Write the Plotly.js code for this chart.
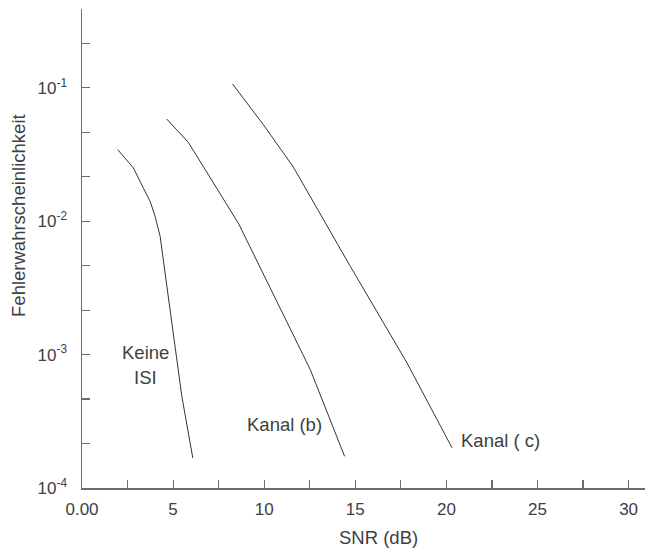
<!DOCTYPE html>
<html>
<head>
<meta charset="utf-8">
<script src="https://cdn.plot.ly/plotly-3.0.1.min.js"></script>
<style>html,body{margin:0;padding:0;background:#fff;}#chart{width:645px;height:552px;}</style>
</head>
<body>
<div id="chart"></div>
<script>
// SNR (dB) and error probability for each curve
var snrKeine = [1.96, 2.82, 3.37, 3.74, 4.01, 4.29, 4.93, 5.48, 6.08];
var peKeine  = [0.0344, 0.0251, 0.0177, 0.0141, 0.0109, 0.00769, 0.00173, 0.000487, 0.000168];

var snrB = [4.65, 5.83, 8.60, 12.53, 14.41];
var peB  = [0.0583, 0.0391, 0.00957, 0.000771, 0.000173];

var snrC = [8.26, 9.96, 11.59, 14.73, 17.84, 20.31];
var peC  = [0.107, 0.0528, 0.0256, 0.00458, 0.000865, 0.000200];

var xTickVals  = [0, 5, 10, 15, 20, 25, 30];
var xTickText  = ["0.00", "5", "10", "15", "20", "25", "30"];
var xMinorVals = [2.5, 7.5, 12.5, 17.5, 22.5, 27.5];

var yTickExp   = [-4, -3, -2, -1];
var yTickText  = ["10<sup>-4</sup>", "10<sup>-3</sup>", "10<sup>-2</sup>", "10<sup>-1</sup>"];
var yMinorExp  = [-3.667, -3.333, -2.667, -2.333, -1.667, -1.333, -0.667, -0.409];

var xTitle = "SNR (dB)";
var yTitle = "Fehlerwahrscheinlichkeit";

var pow10 = function (e) { return Math.pow(10, e); };

var lineStyle = {color: "#333333", width: 1};
var traces = [
  {x: snrKeine, y: peKeine, mode: "lines", line: lineStyle, name: "Keine ISI"},
  {x: snrB, y: peB, mode: "lines", line: lineStyle, name: "Kanal (b)"},
  {x: snrC, y: peC, mode: "lines", line: lineStyle, name: "Kanal ( c)"}
];

var fam = "Liberation Sans, Arial, sans-serif";
var txt = "#404040";
var font = {family: fam, size: 18.5, color: txt};
var axisCol = "#6e6e6e";

var layout = {
  width: 645, height: 552,
  margin: {l: 82, r: 0, t: 9, b: 64, pad: 0},
  paper_bgcolor: "#ffffff", plot_bgcolor: "#ffffff",
  showlegend: false,
  font: font,
  xaxis: {
    range: [0, 30.9],
    showgrid: false, zeroline: false,
    showline: true, linecolor: axisCol, linewidth: 1.5,
    ticks: "inside", ticklen: 8, tickcolor: axisCol, tickwidth: 1.2,
    tickmode: "array", tickvals: xTickVals, ticktext: xTickText,
    minor: {tickmode: "array", tickvals: xMinorVals, ticks: "inside", ticklen: 8, tickcolor: axisCol, tickwidth: 1.2, showgrid: false},
    ticklabelstandoff: 5,
    tickfont: {family: fam, size: 17, color: txt}
  },
  yaxis: {
    type: "log",
    range: [-4, -0.409],
    showgrid: false, zeroline: false,
    showline: true, linecolor: axisCol, linewidth: 1.5,
    ticks: "inside", ticklen: 8, tickcolor: axisCol, tickwidth: 1.2,
    tickmode: "array",
    tickvals: yTickExp.map(pow10),
    ticktext: yTickText,
    minor: {tickmode: "array", tickvals: yMinorExp.map(pow10), ticks: "inside", ticklen: 8, tickcolor: axisCol, tickwidth: 1.2, showgrid: false},
    ticklabelstandoff: 10,
    tickfont: {family: fam, size: 17, color: txt}
  },
  annotations: [
    {x: 0.5258, y: -0.1023, xref: "paper", yref: "paper", text: xTitle, showarrow: false, xanchor: "center", yanchor: "middle", font: font},
    {x: -0.1119, y: 0.568, xref: "paper", yref: "paper", text: yTitle, textangle: -90, showarrow: false, xanchor: "center", yanchor: "middle", font: font},
    {x: 3.46, y: -2.986, xref: "x", yref: "y", text: "Keine", showarrow: false, xanchor: "center", yanchor: "middle", font: font},
    {x: 3.46, y: -3.173, xref: "x", yref: "y", text: "ISI", showarrow: false, xanchor: "center", yanchor: "middle", font: font},
    {x: 8.96, y: -3.525, xref: "x", yref: "y", text: "Kanal (b)", showarrow: false, xanchor: "left", yanchor: "middle", font: font},
    {x: 20.71, y: -3.645, xref: "x", yref: "y", text: "Kanal ( c)", showarrow: false, xanchor: "left", yanchor: "middle", font: font}
  ]
};

Plotly.newPlot("chart", traces, layout, {staticPlot: true, displayModeBar: false});
</script>
</body>
</html>
